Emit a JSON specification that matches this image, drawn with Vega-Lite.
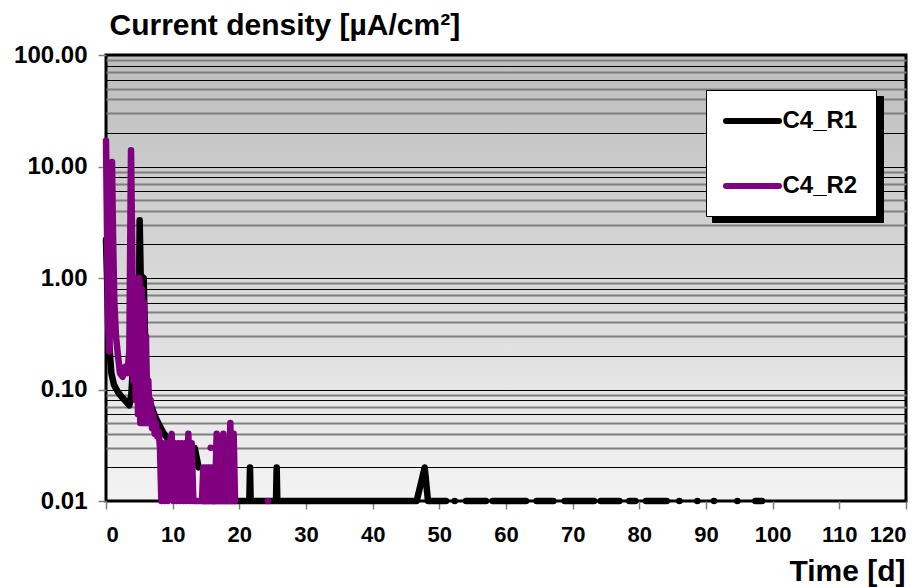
{
  "$schema": "https://vega.github.io/schema/vega-lite/v6.json",
  "width": 800,
  "height": 446,
  "autosize": {"type": "none"},
  "padding": {"left": 106, "top": 55, "right": 17, "bottom": 86},
  "background": "white",
  "view": {
    "fill": {"gradient": "linear", "x1": 0, "y1": 0, "x2": 0, "y2": 1, "stops": [{"offset": 0, "color": "#bdbdbd"}, {"offset": 1, "color": "#f3f3f3"}]},
    "stroke": "black",
    "strokeWidth": 3
  },
  "data": {
    "values": [
      {"s": "C4_R1", "t": 0.0, "v": 2.2},
      {"s": "C4_R1", "t": 0.1, "v": 1.3},
      {"s": "C4_R1", "t": 0.3, "v": 0.5},
      {"s": "C4_R1", "t": 0.5, "v": 0.25},
      {"s": "C4_R1", "t": 0.8, "v": 0.14},
      {"s": "C4_R1", "t": 1.2, "v": 0.11},
      {"s": "C4_R1", "t": 1.8, "v": 0.095},
      {"s": "C4_R1", "t": 2.4, "v": 0.085},
      {"s": "C4_R1", "t": 3.0, "v": 0.078},
      {"s": "C4_R1", "t": 3.5, "v": 0.072},
      {"s": "C4_R1", "t": 3.8, "v": 0.09},
      {"s": "C4_R1", "t": 3.95, "v": 0.13},
      {"s": "C4_R1", "t": 4.2, "v": 0.1},
      {"s": "C4_R1", "t": 4.6, "v": 0.11},
      {"s": "C4_R1", "t": 4.9, "v": 0.3},
      {"s": "C4_R1", "t": 5.05, "v": 3.3},
      {"s": "C4_R1", "t": 5.2, "v": 1.05},
      {"s": "C4_R1", "t": 5.65, "v": 1.0},
      {"s": "C4_R1", "t": 5.85, "v": 0.3},
      {"s": "C4_R1", "t": 6.1, "v": 0.12},
      {"s": "C4_R1", "t": 6.5, "v": 0.08},
      {"s": "C4_R1", "t": 7.0, "v": 0.065},
      {"s": "C4_R1", "t": 7.5, "v": 0.055},
      {"s": "C4_R1", "t": 8.0, "v": 0.048},
      {"s": "C4_R1", "t": 8.5, "v": 0.042},
      {"s": "C4_R1", "t": 9.0, "v": 0.038},
      {"s": "C4_R1", "t": 9.6, "v": 0.034},
      {"s": "C4_R1", "t": 10.2, "v": 0.03},
      {"s": "C4_R1", "t": 11.0, "v": 0.03},
      {"s": "C4_R1", "t": 12.0, "v": 0.03},
      {"s": "C4_R1", "t": 13.3, "v": 0.03},
      {"s": "C4_R1", "t": 13.9, "v": 0.02},
      {"s": "C4_R1", "t": 14.1, "v": null},
      {"s": "C4_R1", "t": 14.6, "v": 0.01},
      {"s": "C4_R1", "t": 15.5, "v": 0.01},
      {"s": "C4_R1", "t": 16.5, "v": 0.01},
      {"s": "C4_R1", "t": 17.5, "v": 0.01},
      {"s": "C4_R1", "t": 18.5, "v": 0.01},
      {"s": "C4_R1", "t": 19.5, "v": 0.01},
      {"s": "C4_R1", "t": 20.5, "v": 0.01},
      {"s": "C4_R1", "t": 21.5, "v": 0.01},
      {"s": "C4_R1", "t": 21.6, "v": 0.02},
      {"s": "C4_R1", "t": 21.7, "v": 0.01},
      {"s": "C4_R1", "t": 22.5, "v": 0.01},
      {"s": "C4_R1", "t": 23.5, "v": 0.01},
      {"s": "C4_R1", "t": 24.5, "v": 0.01},
      {"s": "C4_R1", "t": 25.5, "v": 0.01},
      {"s": "C4_R1", "t": 25.6, "v": 0.02},
      {"s": "C4_R1", "t": 25.7, "v": 0.01},
      {"s": "C4_R1", "t": 27, "v": 0.01},
      {"s": "C4_R1", "t": 28, "v": 0.01},
      {"s": "C4_R1", "t": 29, "v": 0.01},
      {"s": "C4_R1", "t": 30, "v": 0.01},
      {"s": "C4_R1", "t": 31, "v": 0.01},
      {"s": "C4_R1", "t": 32, "v": 0.01},
      {"s": "C4_R1", "t": 33, "v": 0.01},
      {"s": "C4_R1", "t": 34, "v": 0.01},
      {"s": "C4_R1", "t": 35, "v": 0.01},
      {"s": "C4_R1", "t": 36, "v": 0.01},
      {"s": "C4_R1", "t": 37, "v": 0.01},
      {"s": "C4_R1", "t": 38, "v": 0.01},
      {"s": "C4_R1", "t": 39, "v": 0.01},
      {"s": "C4_R1", "t": 40, "v": 0.01},
      {"s": "C4_R1", "t": 41, "v": 0.01},
      {"s": "C4_R1", "t": 42, "v": 0.01},
      {"s": "C4_R1", "t": 43, "v": 0.01},
      {"s": "C4_R1", "t": 44, "v": 0.01},
      {"s": "C4_R1", "t": 45, "v": 0.01},
      {"s": "C4_R1", "t": 46, "v": 0.01},
      {"s": "C4_R1", "t": 46.6, "v": 0.01},
      {"s": "C4_R1", "t": 47.8, "v": 0.02},
      {"s": "C4_R1", "t": 48.3, "v": 0.01},
      {"s": "C4_R1", "t": 49, "v": 0.01},
      {"s": "C4_R1", "t": 50, "v": 0.01},
      {"s": "C4_R1", "t": 51, "v": 0.01},
      {"s": "C4_R1", "t": 51.5, "v": null},
      {"s": "C4_R1", "t": 52.3, "v": 0.01},
      {"s": "C4_R1", "t": 53, "v": null},
      {"s": "C4_R1", "t": 54, "v": 0.01},
      {"s": "C4_R1", "t": 55, "v": 0.01},
      {"s": "C4_R1", "t": 56, "v": 0.01},
      {"s": "C4_R1", "t": 57, "v": 0.01},
      {"s": "C4_R1", "t": 57.5, "v": null},
      {"s": "C4_R1", "t": 58, "v": 0.01},
      {"s": "C4_R1", "t": 59, "v": 0.01},
      {"s": "C4_R1", "t": 60, "v": 0.01},
      {"s": "C4_R1", "t": 61, "v": 0.01},
      {"s": "C4_R1", "t": 62, "v": 0.01},
      {"s": "C4_R1", "t": 63, "v": 0.01},
      {"s": "C4_R1", "t": 63.6, "v": null},
      {"s": "C4_R1", "t": 64.6, "v": 0.01},
      {"s": "C4_R1", "t": 65.5, "v": 0.01},
      {"s": "C4_R1", "t": 66.4, "v": 0.01},
      {"s": "C4_R1", "t": 67.1, "v": 0.01},
      {"s": "C4_R1", "t": 67.7, "v": null},
      {"s": "C4_R1", "t": 68.8, "v": 0.01},
      {"s": "C4_R1", "t": 70, "v": 0.01},
      {"s": "C4_R1", "t": 71, "v": 0.01},
      {"s": "C4_R1", "t": 72, "v": 0.01},
      {"s": "C4_R1", "t": 73.2, "v": 0.01},
      {"s": "C4_R1", "t": 73.7, "v": null},
      {"s": "C4_R1", "t": 74.2, "v": 0.01},
      {"s": "C4_R1", "t": 75, "v": 0.01},
      {"s": "C4_R1", "t": 76, "v": 0.01},
      {"s": "C4_R1", "t": 77, "v": 0.01},
      {"s": "C4_R1", "t": 77.6, "v": null},
      {"s": "C4_R1", "t": 78.5, "v": 0.01},
      {"s": "C4_R1", "t": 79.4, "v": 0.01},
      {"s": "C4_R1", "t": 80, "v": null},
      {"s": "C4_R1", "t": 81, "v": 0.01},
      {"s": "C4_R1", "t": 82, "v": 0.01},
      {"s": "C4_R1", "t": 83, "v": 0.01},
      {"s": "C4_R1", "t": 84.1, "v": 0.01},
      {"s": "C4_R1", "t": 85, "v": null},
      {"s": "C4_R1", "t": 86, "v": 0.01},
      {"s": "C4_R1", "t": 87, "v": null},
      {"s": "C4_R1", "t": 88.7, "v": 0.01},
      {"s": "C4_R1", "t": 89.5, "v": null},
      {"s": "C4_R1", "t": 91.2, "v": 0.01},
      {"s": "C4_R1", "t": 92, "v": null},
      {"s": "C4_R1", "t": 94.7, "v": 0.01},
      {"s": "C4_R1", "t": 95.5, "v": null},
      {"s": "C4_R1", "t": 97.4, "v": 0.01},
      {"s": "C4_R1", "t": 98.4, "v": 0.01},
      {"s": "C4_R2", "t": 0.0, "v": 17},
      {"s": "C4_R2", "t": 0.12, "v": 4},
      {"s": "C4_R2", "t": 0.3, "v": 0.4},
      {"s": "C4_R2", "t": 0.5, "v": 0.22},
      {"s": "C4_R2", "t": 0.7, "v": 1.5},
      {"s": "C4_R2", "t": 0.9, "v": 11},
      {"s": "C4_R2", "t": 1.05, "v": 2.5},
      {"s": "C4_R2", "t": 1.25, "v": 0.6},
      {"s": "C4_R2", "t": 1.5, "v": 0.3},
      {"s": "C4_R2", "t": 1.8, "v": 0.2},
      {"s": "C4_R2", "t": 2.1, "v": 0.14},
      {"s": "C4_R2", "t": 2.5, "v": 0.13},
      {"s": "C4_R2", "t": 2.85, "v": 0.16},
      {"s": "C4_R2", "t": 3.2, "v": 0.14},
      {"s": "C4_R2", "t": 3.5, "v": 0.22},
      {"s": "C4_R2", "t": 3.75, "v": 14},
      {"s": "C4_R2", "t": 3.95, "v": 1.5},
      {"s": "C4_R2", "t": 4.1, "v": 0.12},
      {"s": "C4_R2", "t": 4.3, "v": 1.0},
      {"s": "C4_R2", "t": 4.45, "v": 0.08},
      {"s": "C4_R2", "t": 4.65, "v": 0.9},
      {"s": "C4_R2", "t": 4.8, "v": 0.06},
      {"s": "C4_R2", "t": 5.0, "v": 1.0},
      {"s": "C4_R2", "t": 5.15, "v": 0.05},
      {"s": "C4_R2", "t": 5.35, "v": 0.8},
      {"s": "C4_R2", "t": 5.5, "v": 0.05},
      {"s": "C4_R2", "t": 5.7, "v": 0.6},
      {"s": "C4_R2", "t": 5.85, "v": 0.05},
      {"s": "C4_R2", "t": 6.0, "v": 0.3},
      {"s": "C4_R2", "t": 6.15, "v": 0.05},
      {"s": "C4_R2", "t": 6.35, "v": 0.12},
      {"s": "C4_R2", "t": 6.5, "v": 0.05},
      {"s": "C4_R2", "t": 6.7, "v": 0.08},
      {"s": "C4_R2", "t": 6.9, "v": 0.045},
      {"s": "C4_R2", "t": 7.1, "v": 0.06},
      {"s": "C4_R2", "t": 7.3, "v": 0.04},
      {"s": "C4_R2", "t": 7.5, "v": 0.05},
      {"s": "C4_R2", "t": 7.7, "v": 0.038},
      {"s": "C4_R2", "t": 7.9, "v": 0.042},
      {"s": "C4_R2", "t": 8.1, "v": 0.03},
      {"s": "C4_R2", "t": 8.3, "v": 0.01},
      {"s": "C4_R2", "t": 8.55, "v": 0.033},
      {"s": "C4_R2", "t": 8.8, "v": 0.01},
      {"s": "C4_R2", "t": 9.05, "v": 0.033},
      {"s": "C4_R2", "t": 9.3, "v": 0.01},
      {"s": "C4_R2", "t": 9.55, "v": 0.033},
      {"s": "C4_R2", "t": 9.85, "v": 0.04},
      {"s": "C4_R2", "t": 10.1, "v": 0.01},
      {"s": "C4_R2", "t": 10.35, "v": 0.033},
      {"s": "C4_R2", "t": 10.6, "v": 0.01},
      {"s": "C4_R2", "t": 10.85, "v": 0.033},
      {"s": "C4_R2", "t": 11.1, "v": 0.01},
      {"s": "C4_R2", "t": 11.35, "v": 0.033},
      {"s": "C4_R2", "t": 11.6, "v": 0.01},
      {"s": "C4_R2", "t": 11.85, "v": 0.033},
      {"s": "C4_R2", "t": 12.1, "v": 0.01},
      {"s": "C4_R2", "t": 12.35, "v": 0.04},
      {"s": "C4_R2", "t": 12.6, "v": 0.01},
      {"s": "C4_R2", "t": 12.85, "v": 0.033},
      {"s": "C4_R2", "t": 13.1, "v": 0.01},
      {"s": "C4_R2", "t": 13.6, "v": 0.01},
      {"s": "C4_R2", "t": 14.1, "v": 0.01},
      {"s": "C4_R2", "t": 14.4, "v": 0.01},
      {"s": "C4_R2", "t": 14.6, "v": 0.02},
      {"s": "C4_R2", "t": 14.85, "v": 0.01},
      {"s": "C4_R2", "t": 15.1, "v": 0.02},
      {"s": "C4_R2", "t": 15.35, "v": 0.01},
      {"s": "C4_R2", "t": 15.6, "v": 0.02},
      {"s": "C4_R2", "t": 15.65, "v": null},
      {"s": "C4_R2", "t": 15.7, "v": 0.03},
      {"s": "C4_R2", "t": 15.75, "v": null},
      {"s": "C4_R2", "t": 15.85, "v": 0.01},
      {"s": "C4_R2", "t": 16.1, "v": 0.02},
      {"s": "C4_R2", "t": 16.35, "v": 0.01},
      {"s": "C4_R2", "t": 16.6, "v": 0.04},
      {"s": "C4_R2", "t": 16.85, "v": 0.01},
      {"s": "C4_R2", "t": 17.1, "v": 0.035},
      {"s": "C4_R2", "t": 17.35, "v": 0.01},
      {"s": "C4_R2", "t": 17.6, "v": 0.04},
      {"s": "C4_R2", "t": 17.85, "v": 0.01},
      {"s": "C4_R2", "t": 18.1, "v": 0.035},
      {"s": "C4_R2", "t": 18.35, "v": 0.01},
      {"s": "C4_R2", "t": 18.65, "v": 0.05},
      {"s": "C4_R2", "t": 18.9, "v": 0.01},
      {"s": "C4_R2", "t": 19.15, "v": 0.04},
      {"s": "C4_R2", "t": 19.35, "v": 0.01},
      {"s": "C4_R2", "t": 19.6, "v": null},
      {"s": "C4_R2", "t": 24.3, "v": 0.01}
    ]
  },
  "mark": {
    "type": "line",
    "strokeWidth": 6.5,
    "strokeCap": "round",
    "strokeJoin": "round",
    "invalid": "break-paths-filter-domains",
    "clip": false
  },
  "encoding": {
    "x": {
      "field": "t",
      "type": "quantitative",
      "scale": {"domain": [0, 120], "nice": false},
      "axis": {
        "values": [0, 10, 20, 30, 40, 50, 60, 70, 80, 90, 100, 110, 120],
        "grid": false,
        "domain": false,
        "tickColor": "#808080",
        "tickSize": 8,
        "tickWidth": 1.5,
        "labelFont": "Liberation Sans",
        "labelFontWeight": "bold",
        "labelFontSize": 22,
        "labelColor": "black",
        "labelPadding": 15,
        "labelOverlap": false,
        "title": "Time [d]",
        "titleFont": "Liberation Sans",
        "titleFontWeight": "bold",
        "titleFontSize": 30,
        "titleColor": "black",
        "titleX": 799,
        "titleY": 79,
        "titleAlign": "right",
        "titleBaseline": "alphabetic"
      }
    },
    "y": {
      "field": "v",
      "type": "quantitative",
      "scale": {"type": "log", "domain": [0.01, 100], "nice": false},
      "axis": {
        "values": [0.01, 0.02, 0.03, 0.04, 0.05, 0.06, 0.07, 0.08, 0.09, 0.1, 0.2, 0.3, 0.4, 0.5, 0.6, 0.7, 0.8, 0.9, 1, 2, 3, 4, 5, 6, 7, 8, 9, 10, 20, 30, 40, 50, 60, 70, 80, 90, 100],
        "format": ".2f",
        "labelExpr": "abs(log(datum.value)/LN10 - round(log(datum.value)/LN10)) < 0.001 ? datum.label : ''",
        "grid": true,
        "gridColor": {"condition": {"test": "indexof([1, 2, 6, 8], round(datum.value / pow(10, floor(log(datum.value)/LN10 + 0.000001)))) >= 0", "value": "#000000"}, "value": "#7f7f7f"},
        "gridWidth": {"condition": {"test": "indexof([1, 2, 6, 8], round(datum.value / pow(10, floor(log(datum.value)/LN10 + 0.000001)))) >= 0", "value": 1}, "value": 2},
        "tickColor": {"condition": {"test": "abs(log(datum.value)/LN10 - round(log(datum.value)/LN10)) < 0.001", "value": "#808080"}, "value": "transparent"},
        "tickSize": 8,
        "tickWidth": 1.5,
        "domain": false,
        "labelFont": "Liberation Sans",
        "labelFontWeight": "bold",
        "labelFontSize": 24,
        "labelColor": "black",
        "labelPadding": 11,
        "labelOverlap": false,
        "labelBound": false,
        "title": "Current density [µA/cm²]",
        "titleFont": "Liberation Sans",
        "titleFontWeight": "bold",
        "titleFontSize": 30,
        "titleColor": "black",
        "titleAngle": 0,
        "titleX": 3,
        "titleY": -21,
        "titleAlign": "left",
        "titleBaseline": "alphabetic"
      }
    },
    "color": {
      "field": "s",
      "type": "nominal",
      "scale": {"domain": ["C4_R1", "C4_R2"], "range": ["#000000", "#800080"]},
      "legend": {
        "title": null,
        "orient": "none",
        "legendX": 600,
        "legendY": 35,
        "zindex": 2,
        "fillColor": "white",
        "strokeColor": "black",
        "padding": 18,
        "symbolType": "M-2.65,0H2.65",
        "symbolSize": 400,
        "symbolOffset": 15.5,
        "symbolStrokeWidth": 6,
        "labelFont": "Liberation Sans",
        "labelFontWeight": "bold",
        "labelFontSize": 24,
        "labelColor": "black",
        "labelOffset": 17,
        "rowPadding": 40,
        "labelLimit": 200,
        "encode": {"symbols": {"update": {"strokeCap": {"value": "round"}, "fill": {"value": "transparent"}}}}
      }
    },
    "opacity": {
      "field": "s",
      "type": "nominal",
      "scale": {"range": [1, 1]},
      "legend": {
        "title": null,
        "orient": "none",
        "legendX": 606,
        "legendY": 41,
        "zindex": 1,
        "fillColor": "black",
        "strokeColor": "black",
        "padding": 18,
        "symbolType": "M-2.65,0H2.65",
        "symbolSize": 400,
        "symbolOffset": 15.5,
        "symbolStrokeWidth": 6,
        "symbolStrokeColor": "black",
        "labelExpr": "''",
        "labelFontSize": 24,
        "labelOffset": 93,
        "rowPadding": 40,
        "labelLimit": 200
      }
    }
  },
  "config": {"font": "Liberation Sans"}
}
